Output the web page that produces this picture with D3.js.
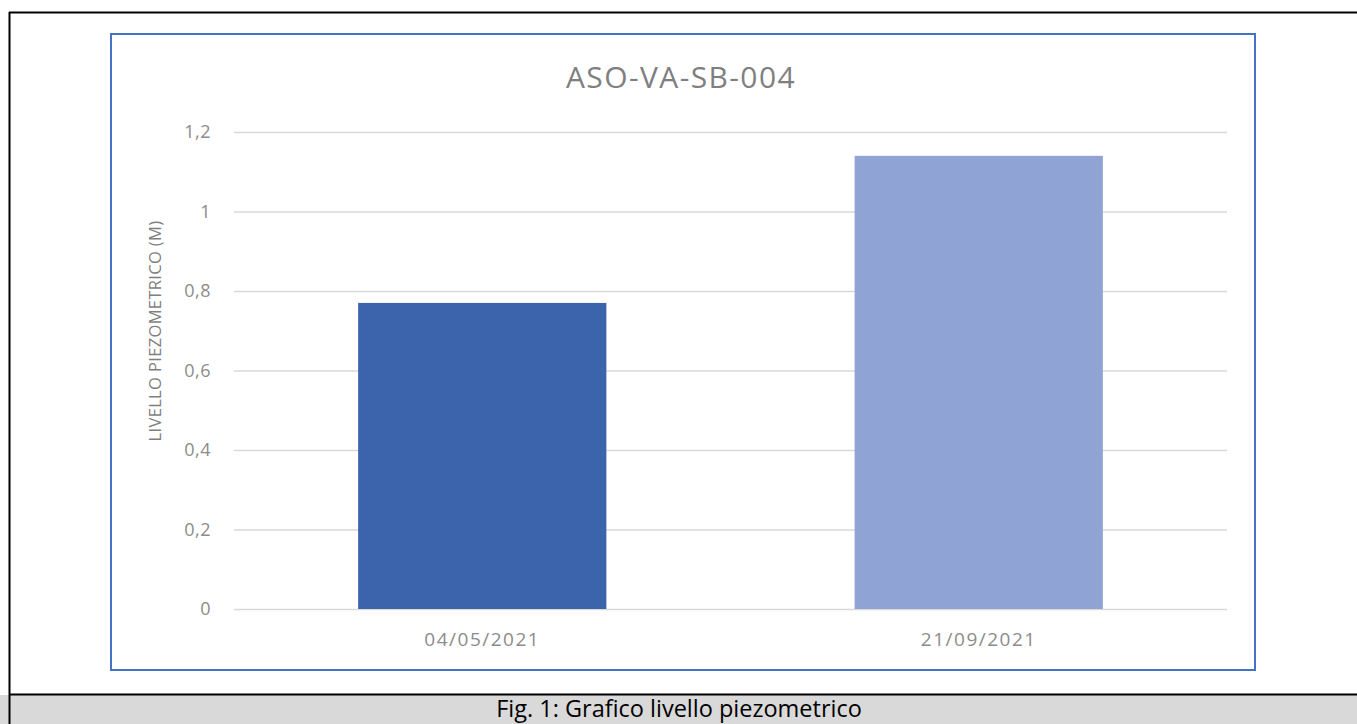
<!DOCTYPE html>
<html><head><meta charset="utf-8">
<script src="https://cdn.jsdelivr.net/npm/d3@7"></script>
<style>html,body{margin:0;padding:0;background:#fff;}svg{display:block;}</style>
</head><body>
<svg id="c" width="1357" height="724"></svg>
<script>
const title = "ASO-VA-SB-004";
const yAxisTitle = "LIVELLO PIEZOMETRICO (M)";
const caption = "Fig. 1: Grafico livello piezometrico";
const categories = ["04/05/2021", "21/09/2021"];
const values = [0.77, 1.14];
const barColors = ["#3c64ad", "#8fa4d4"];
const yTicks = [0, 0.2, 0.4, 0.6, 0.8, 1, 1.2];

const svg = d3.select("#c");
const W = 1357, H = 724;
const font = "'Open Sans', sans-serif";

// outer page frame
svg.append("rect").attr("x", 0).attr("y", 695).attr("width", W).attr("height", H - 695).attr("fill", "#d9d9d9");
svg.append("line").attr("x1", 9.5).attr("x2", 9.5).attr("y1", 12).attr("y2", H).attr("stroke", "#000").attr("stroke-width", 2);
svg.append("line").attr("x1", 9).attr("x2", W).attr("y1", 12.5).attr("y2", 12.5).attr("stroke", "#000").attr("stroke-width", 2);
svg.append("line").attr("x1", 9).attr("x2", W).attr("y1", 694.5).attr("y2", 694.5).attr("stroke", "#000").attr("stroke-width", 2);
svg.append("text").attr("x", 679).attr("y", 717).attr("text-anchor", "middle")
  .attr("font-family", font).attr("font-size", 23.5).attr("fill", "#000").text(caption);

// chart frame
svg.append("rect").attr("x", 111).attr("y", 34).attr("width", 1144).attr("height", 636)
  .attr("fill", "#fff").attr("stroke", "#4472c4").attr("stroke-width", 2);

const x = d3.scaleBand().domain(categories).range([234, 1227]).paddingInner(0.5).paddingOuter(0.25);
const y = d3.scaleLinear().domain([0, 1.2]).range([609, 132]);

const fmt = d => String(d).replace(".", ",");

const gy = svg.append("g").attr("transform", "translate(234,0)")
  .call(d3.axisLeft(y).tickValues(yTicks).tickFormat(fmt).tickSize(-993).tickPadding(23));
gy.select(".domain").remove();
gy.selectAll(".tick line").attr("stroke", "#d9d9d9").attr("stroke-width", 1.5);
gy.selectAll(".tick text").attr("font-family", font).attr("font-size", 18).attr("fill", "#8c8c8c").attr("letter-spacing", 0.5);

svg.selectAll("rect.bar").data(values).enter().append("rect").attr("class", "bar")
  .attr("x", (d, i) => x(categories[i])).attr("width", x.bandwidth())
  .attr("y", d => y(d)).attr("height", d => y(0) - y(d))
  .attr("fill", (d, i) => barColors[i]);

const gx = svg.append("g").attr("transform", "translate(0,609)")
  .call(d3.axisBottom(x).tickSize(0).tickPadding(24));
gx.select(".domain").remove();
gx.selectAll(".tick text").attr("font-family", font).attr("font-size", 19).attr("fill", "#8c8c8c").attr("letter-spacing", 1.5);

svg.append("text").attr("x", 681).attr("y", 88).attr("text-anchor", "middle")
  .attr("font-family", font).attr("font-size", 30).attr("fill", "#7f7f7f").attr("letter-spacing", 1.4).text(title);

svg.append("text").attr("transform", "translate(161,331) rotate(-90)").attr("text-anchor", "middle")
  .attr("font-family", font).attr("font-size", 16.5).attr("fill", "#7f7f7f").attr("letter-spacing", 0.35).text(yAxisTitle);
</script>
</body></html>
